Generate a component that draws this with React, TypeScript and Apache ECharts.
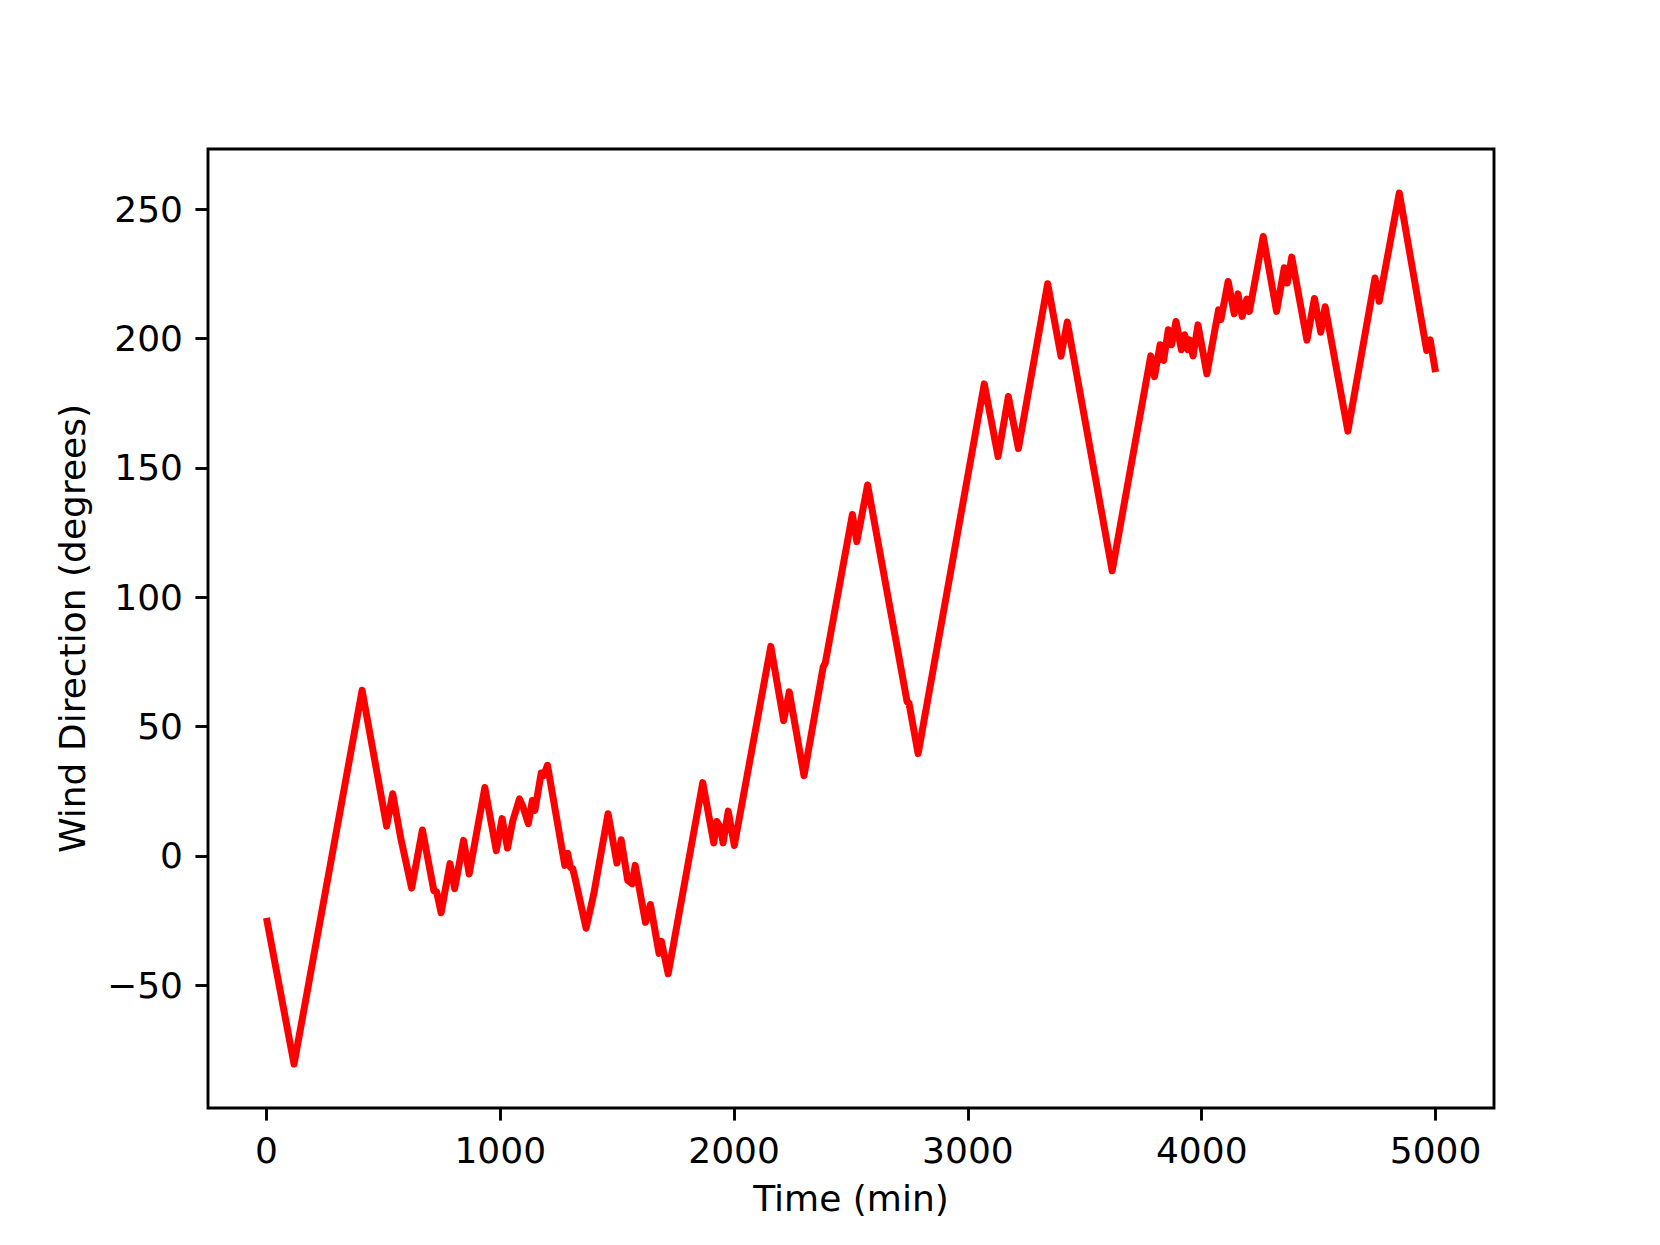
import React, { useEffect, useRef } from "react";
import * as echarts from "echarts";

const timeMin: number[] = [
  0, 118, 409, 514, 540, 574, 621, 667, 716, 728, 747, 785, 805, 843, 867, 934, 983, 1008, 1031, 1054,
  1082, 1097, 1120, 1137, 1148, 1175, 1185, 1202, 1276, 1288, 1300, 1310, 1322, 1367, 1400, 1461, 1499,
  1517, 1545, 1564, 1577, 1621, 1642, 1679, 1689, 1718, 1866, 1913, 1926, 1941, 1953, 1975, 2001, 2157,
  2212, 2236, 2299, 2381, 2390, 2506, 2525, 2571, 2740, 2748, 2787, 3070, 3129, 3173, 3216, 3341, 3398,
  3425, 3617, 3782, 3798, 3822, 3837, 3857, 3871, 3890, 3913, 3927, 3941, 3948, 3963, 3984, 4022, 4072,
  4082, 4113, 4139, 4155, 4173, 4193, 4204, 4263, 4320, 4353, 4366, 4385, 4450, 4482, 4509, 4528, 4625,
  4741, 4759, 4845, 4962, 4977, 5000,
];

const windDir: number[] = [
  -24, -80.5, 64, 11.5, 24, 7, -12.5, 10, -13.5, -14, -22, -3, -12.7, 6, -7, 26.4, 2, 14.4, 3, 13.7,
  22, 19, 12.4, 21.4, 17.6, 32, 31, 35, -3.7, 1, -4.4, -5, -9.5, -28, -14.7, 16.3, -2.8,
  6.2, -9.5, -10.8, -3.7, -25.7, -18.8, -37.7, -33, -45.6, 28.3, 5, 13.3, 11, 5, 17.3, 4, 81,
  52.3, 63.4, 31, 73, 74.5, 132, 121.5, 143.4, 59.5, 59, 39.5, 182.5, 154.4, 177.6, 157.5, 221.2, 193.2,
  206.4, 110.2, 193.3, 185.3, 197.6, 191.5, 203.4, 197.6, 206.6, 195.7, 201.5, 195.7, 199.5, 193.3, 205.3, 186.4, 211.1,
  207.3, 222.1, 209.6, 217.3, 208.6, 215.3, 210.5, 239.5, 210.5, 227.4, 221.5, 231.5, 199.4, 215.5, 202.5, 212.3, 164.2,
  223.4, 214.4, 256.3, 195.4, 199.5, 187,
];

const xTicks: number[] = [0, 1000, 2000, 3000, 4000, 5000];
const yTicks: number[] = [-50, 0, 50, 100, 150, 200, 250];

const FONT = "DejaVu Sans";

export default function App() {
  const ref = useRef<HTMLDivElement>(null);
  useEffect(() => {
    if (!ref.current) return;
    const chart = echarts.init(ref.current, null, { renderer: "svg" });
    const data = timeMin.map((t, i) => [t, windDir[i]]);
    chart.setOption({
      animation: false,
      backgroundColor: "#ffffff",
      grid: {
        left: 208,
        right: 166,
        top: 149,
        bottom: 137,
        show: true,
        borderColor: "#000000",
        borderWidth: 2.9,
        backgroundColor: "transparent",
      },
      xAxis: {
        type: "value",
        min: -250,
        max: 5250,
        name: "Time (min)",
        nameLocation: "middle",
        nameGap: 72,
        nameTextStyle: { fontFamily: FONT, fontSize: 36, color: "#000" },
        axisLine: { show: false, onZero: false },
        splitLine: { show: false },
        axisTick: {
          show: true,
          inside: false,
          length: 12.6,
          lineStyle: { color: "#000", width: 2.9 },
          customValues: xTicks,
        },
        axisLabel: {
          fontFamily: FONT,
          fontSize: 36,
          color: "#000",
          margin: 24,
          customValues: xTicks,
          formatter: (v: number) => String(v),
        },
      },
      yAxis: {
        type: "value",
        min: -97.5,
        max: 273.3,
        name: "Wind Direction (degrees)",
        nameLocation: "middle",
        nameGap: 118,
        nameTextStyle: { fontFamily: FONT, fontSize: 36, color: "#000" },
        axisLine: { show: false, onZero: false },
        splitLine: { show: false },
        axisTick: {
          show: true,
          inside: false,
          length: 12.6,
          lineStyle: { color: "#000", width: 2.9 },
          customValues: yTicks,
        },
        axisLabel: {
          fontFamily: FONT,
          fontSize: 36,
          color: "#000",
          margin: 25,
          customValues: yTicks,
          formatter: (v: number) => (v < 0 ? "\u2212" + Math.abs(v) : String(v)),
        },
      },
      series: [
        {
          type: "line",
          data,
          showSymbol: false,
          symbol: "none",
          lineStyle: { color: "#ff0000", width: 7, join: "round" },
          itemStyle: { color: "#ff0000" },
        },
      ],
    });
    return () => chart.dispose();
  }, []);
  return (
    <div
      ref={ref}
      style={{ position: "fixed", left: 0, top: 0, width: 1660, height: 1245, background: "#fff" }}
    />
  );
}
